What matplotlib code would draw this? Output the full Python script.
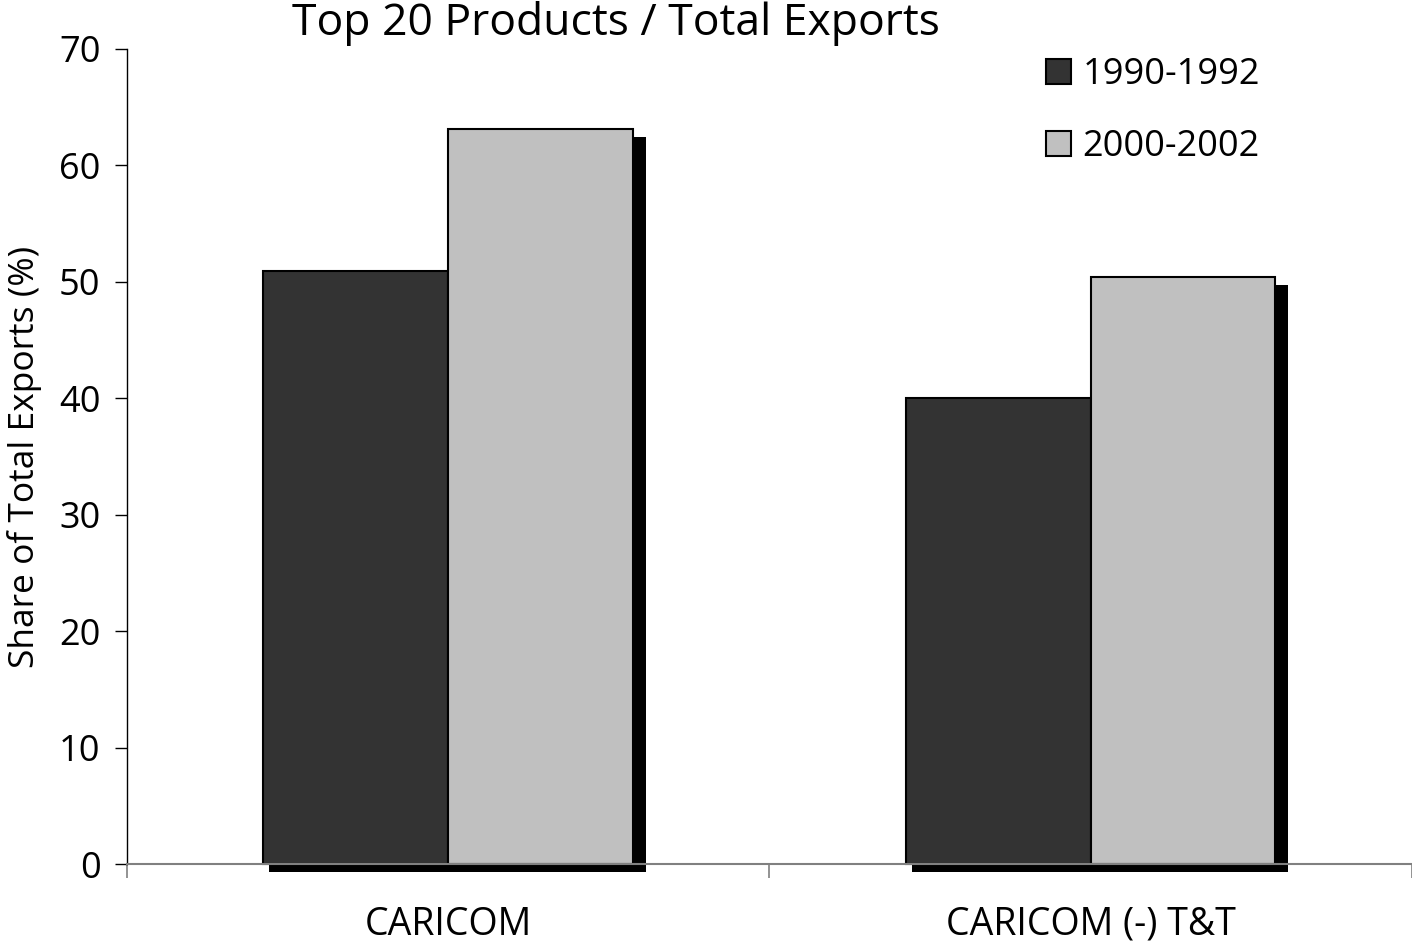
import numpy as np
import matplotlib
matplotlib.use('Agg')
import matplotlib.pyplot as plt

plt.rcParams['font.family'] = ['Open Sans', 'DejaVu Sans']

categories = ['CARICOM', 'CARICOM (-) T&T']
series_names = ['1990-1992', '2000-2002']
share_1990 = [50.9, 40.0]
share_2000 = [63.1, 50.4]
colors = ['#333333', '#c0c0c0']

fig = plt.figure(figsize=(14.12, 9.42), dpi=100)
ax = fig.add_axes([0.0899, 0.0828, 0.9101, 0.8652])

centers = np.arange(len(categories)) + 0.5
w = 0.2875
px = 1 / 643.0  # one pixel in x data units
py = 70 / 815.0  # one pixel in y data units

for vals, off in [(share_1990, -w / 2), (share_2000, w / 2)]:
    # drop shadow
    ax.bar(centers + off + 9.5 * px, vals, width=w + 7 * px, bottom=-8 * py,
           color='black', linewidth=0, zorder=1, clip_on=False)

for vals, off, col, name in [(share_1990, -w / 2, colors[0], series_names[0]),
                             (share_2000, w / 2, colors[1], series_names[1])]:
    ax.bar(centers + off, vals, width=w, color=col, edgecolor='black',
           linewidth=1.5, zorder=2, label=name, clip_on=False)

ax.set_xlim(0, 2)
ax.set_ylim(0, 70)
ax.set_yticks(np.arange(0, 71, 10))
ax.set_xticks([0, 1, 2])
ax.set_xticklabels([])
ax.set_xticks(centers, minor=True)
ax.set_xticklabels(categories, minor=True)
ax.tick_params(axis='x', which='minor', length=0, pad=30, labelsize=27)
ax.tick_params(axis='x', which='major', length=10, color='#808080', width=1.2)
ax.tick_params(axis='y', length=9, width=1, pad=10, labelsize=26)

for s in ['top', 'right']:
    ax.spines[s].set_visible(False)
ax.spines['bottom'].set_color('#808080')
ax.spines['bottom'].set_linewidth(1.5)
ax.spines['left'].set_linewidth(1)

ax.set_ylabel('Share of Total Exports (%)', fontsize=25.5, labelpad=12)
fig.text(0.436, 0.975, 'Top 20 Products / Total Exports', fontsize=32,
         ha='center', va='center')

ax.legend(loc='upper left', bbox_to_anchor=(0.69, 1.03), frameon=False,
          fontsize=26, handlelength=0.7, handleheight=0.7, handletextpad=0.3,
          labelspacing=1.0)

fig.savefig('out.png', dpi=100)
